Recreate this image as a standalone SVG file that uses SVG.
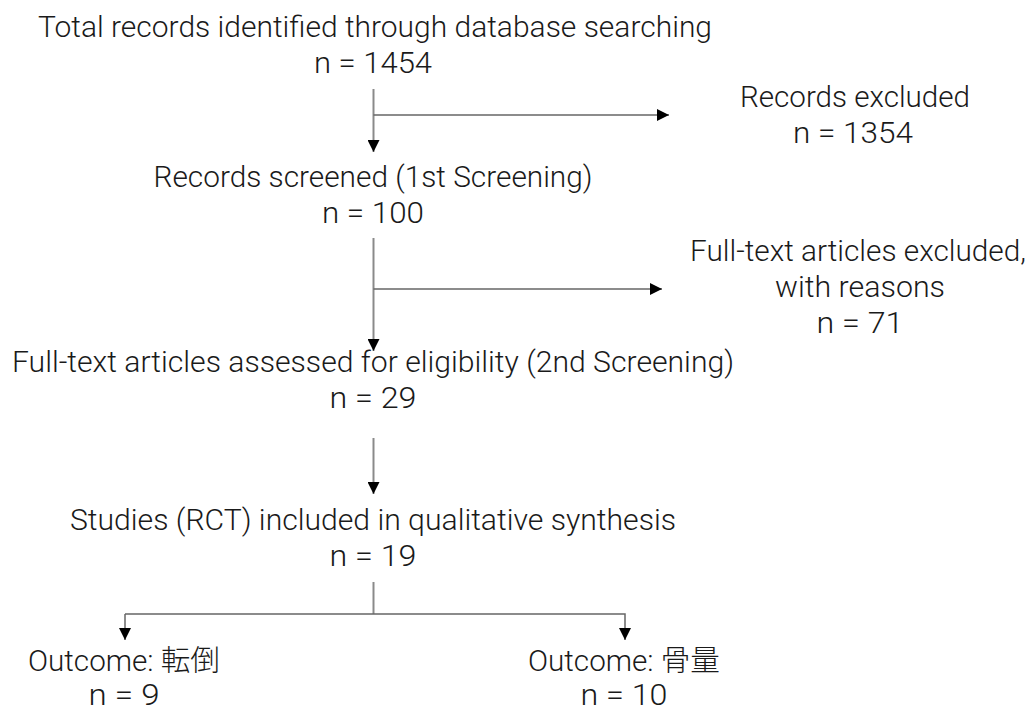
<svg xmlns="http://www.w3.org/2000/svg" width="1036" height="716" viewBox="0 0 1036 716">
<style>
  text { font-family: Roboto, "Noto Sans CJK JP", sans-serif; font-weight: 300; font-size: 29px; fill: #1a1a1a; text-anchor: middle; }
  .v { stroke: #8a8a8a; stroke-width: 2; fill: none; }
  .h { stroke: #666; stroke-width: 1.5; fill: none; }
</style>
<defs>
  <marker id="arr" markerUnits="userSpaceOnUse" markerWidth="12" markerHeight="12" viewBox="0 0 10 10" refX="10" refY="5" orient="auto">
    <path d="M0,0 L10,5 L0,10 Z" fill="#000"/>
  </marker>
</defs>
<rect width="1036" height="716" fill="#fff"/>
<g id="connectors">
  <line class="v" x1="373.5" y1="89" x2="373.5" y2="152" marker-end="url(#arr)"/>
  <line class="h" x1="373.5" y1="115" x2="669" y2="115" marker-end="url(#arr)"/>
  <line class="v" x1="373.5" y1="238" x2="373.5" y2="351" marker-end="url(#arr)"/>
  <line class="h" x1="373.5" y1="289" x2="662" y2="289" marker-end="url(#arr)"/>
  <line class="v" x1="373.5" y1="438" x2="373.5" y2="494" marker-end="url(#arr)"/>
  <line class="v" x1="373.5" y1="582" x2="373.5" y2="614"/>
  <polyline class="h" points="125,614 625,614 625,640" marker-end="url(#arr)"/>
  <line class="h" x1="125" y1="614" x2="125" y2="640" marker-end="url(#arr)"/>
</g>
<g id="n-total">
  <text x="375" y="37" textLength="674" lengthAdjust="spacingAndGlyphs">Total records identified through database searching</text>
  <text x="373" y="73" textLength="118" lengthAdjust="spacingAndGlyphs">n = 1454</text>
</g>
<g id="n-excluded">
  <text x="855" y="107" textLength="230" lengthAdjust="spacingAndGlyphs">Records excluded</text>
  <text x="853" y="143" textLength="120" lengthAdjust="spacingAndGlyphs">n = 1354</text>
</g>
<g id="n-screened">
  <text x="373" y="187" textLength="439" lengthAdjust="spacingAndGlyphs">Records screened (1st Screening)</text>
  <text x="373" y="223" textLength="102" lengthAdjust="spacingAndGlyphs">n = 100</text>
</g>
<g id="n-fulltext-excluded">
  <text x="858" y="261" textLength="336" lengthAdjust="spacingAndGlyphs">Full-text articles excluded,</text>
  <text x="860" y="297" textLength="170" lengthAdjust="spacingAndGlyphs">with reasons</text>
  <text x="860" y="333" textLength="87" lengthAdjust="spacingAndGlyphs">n = 71</text>
</g>
<g id="n-assessed">
  <text x="373" y="372" textLength="722" lengthAdjust="spacingAndGlyphs">Full-text articles assessed for eligibility (2nd Screening)</text>
  <text x="373" y="408" textLength="87" lengthAdjust="spacingAndGlyphs">n = 29</text>
</g>
<g id="n-included">
  <text x="373" y="530" textLength="606" lengthAdjust="spacingAndGlyphs">Studies (RCT) included in qualitative synthesis</text>
  <text x="373" y="566" textLength="87" lengthAdjust="spacingAndGlyphs">n = 19</text>
</g>
<g id="n-falls">
  <text x="124" y="671" textLength="192" lengthAdjust="spacingAndGlyphs">Outcome: 転倒</text>
  <text x="124" y="705" textLength="71" lengthAdjust="spacingAndGlyphs">n = 9</text>
</g>
<g id="n-bone">
  <text x="624" y="671" textLength="192" lengthAdjust="spacingAndGlyphs">Outcome: 骨量</text>
  <text x="624" y="705" textLength="87" lengthAdjust="spacingAndGlyphs">n = 10</text>
</g>
</svg>
